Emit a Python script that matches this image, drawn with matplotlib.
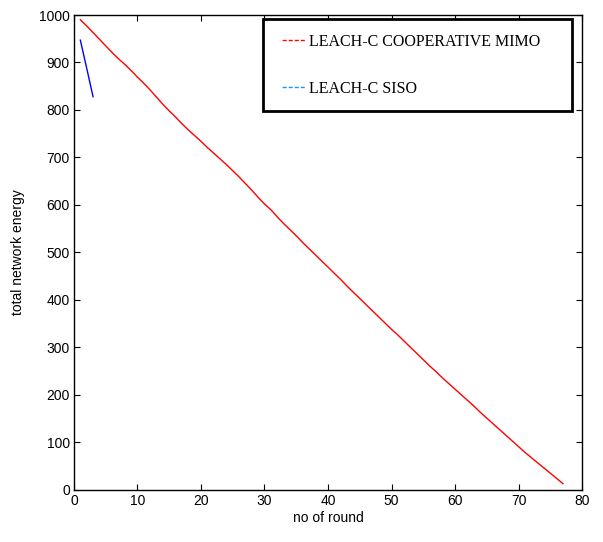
import matplotlib
matplotlib.use("Agg")
import matplotlib.pyplot as plt
from matplotlib.lines import Line2D

# Total network energy per round
mimo_rounds = list(range(1, 78))
mimo_energy = [
    990, 977, 963, 949, 935, 921, 908, 896, 883, 869,
    856, 842, 827, 812, 798, 785, 771, 758, 746, 734,
    721, 709, 697, 685, 672, 659, 645, 631, 616, 602,
    590, 575, 561, 548, 535, 521, 508, 495, 482, 469,
    456, 443, 429, 416, 403, 390, 377, 364, 351, 338,
    326, 313, 300, 287, 274, 261, 249, 236, 224, 212,
    200, 188, 176, 163, 151, 139, 127, 115, 103, 91,
    79, 68, 57, 46, 35, 24, 13,
]
siso_rounds = [1, 2, 3]
siso_energy = [947, 888, 828]

series_labels = ["LEACH-C COOPERATIVE MIMO", "LEACH-C SISO"]
x_ticks = [0, 10, 20, 30, 40, 50, 60, 70, 80]
y_ticks = [0, 100, 200, 300, 400, 500, 600, 700, 800, 900, 1000]

plt.rcParams["font.family"] = ["Liberation Sans", "DejaVu Sans"]

fig = plt.figure(figsize=(6.03, 5.42), dpi=100)
ax = fig.add_axes([0.1227, 0.0963, 0.8425, 0.876])

ax.plot(mimo_rounds, mimo_energy, color="red", lw=1.0)
ax.plot(siso_rounds, siso_energy, color="blue", lw=1.0)

ax.set_xlim(0, 80)
ax.set_ylim(0, 1000)
ax.set_xticks(x_ticks)
ax.set_yticks(y_ticks)
ax.tick_params(direction="in", top=True, right=True, length=4, width=0.8,
               labelsize=10, pad=3)
for s in ax.spines.values():
    s.set_linewidth(1.0)

ax.set_xlabel("no of round", fontsize=10, labelpad=2)
ax.set_ylabel("total network energy", fontsize=10, labelpad=10)

# short "----" legend keys, with a leading gap before the first dash
key_dashes = (0, (0.001, 3.0, 2.9, 1.45, 2.9, 1.45, 2.9, 1.45, 2.9, 20))
handles = [
    Line2D([], [], color="red", lw=1.0, ls=key_dashes),
    Line2D([], [], color="#1e90ff", lw=1.0, ls=key_dashes),
]
leg = ax.legend(handles, series_labels, loc="upper left",
                bbox_to_anchor=(0.372, 0.7957, 0.608, 0.196), mode="expand",
                borderaxespad=0, fancybox=False, frameon=True, framealpha=1.0,
                prop={"family": "Liberation Serif", "size": 11.5},
                handlelength=1.72, handletextpad=0.25, labelspacing=1.95,
                borderpad=0.92)
leg.get_frame().set_edgecolor("black")
leg.get_frame().set_linewidth(2.0)

fig.savefig("out.png", dpi=100)
